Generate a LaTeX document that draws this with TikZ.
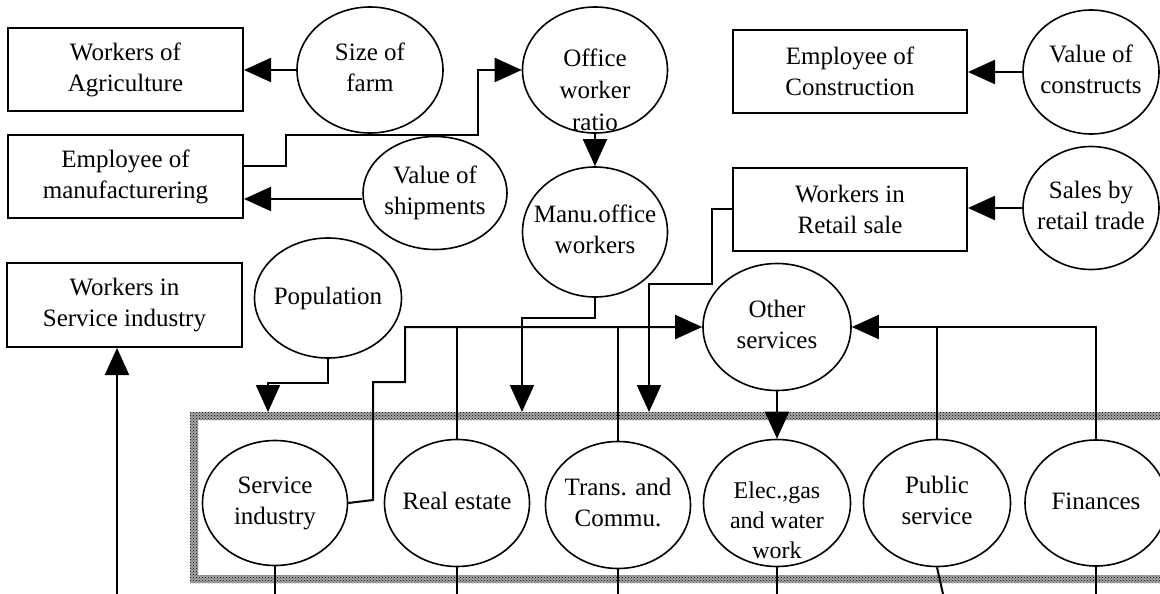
\documentclass[tikz,border=0pt]{standalone}
\usepackage{fontspec}
\setmainfont{Liberation Serif}
\usetikzlibrary{shapes.geometric,arrows.meta,patterns}
\newcommand{\ztx}[1]{\makebox[0pt]{\begin{tabular}{@{}c@{}}#1\end{tabular}}}
\begin{document}
\begin{tikzpicture}[x=1pt,y=-1pt,
  every node/.style={font=\fontsize{25}{31}\selectfont, align=center},
  bx/.style={draw, line width=2pt, minimum width=235pt, minimum height=83pt, inner sep=0pt},
  el/.style={draw, ellipse, line width=1.6pt, inner sep=0pt},
  con/.style={line width=2pt},
  arr/.style={con, -{Triangle[length=27pt,width=24pt]}},
]
\useasboundingbox (0,0) rectangle (1160,594);
\fill[white] (0,0) rectangle (1160,594);

% hatched band
\fill[black!35, even odd rule]
  (190,412) rectangle (1180,583) (198,420) rectangle (1180,575);
\fill[pattern=crosshatch dots, pattern color=black, even odd rule]
  (190,412) rectangle (1180,583) (198,420) rectangle (1180,575);

% boxes
\node[bx] (agri) at (125.5,69.5) {Workers of\\Agriculture};
\node[bx] (manuf) at (125.5,176.5) {Employee of\\manufacturering};
\node[bx, minimum width=234pt] (constr) at (850,71.5) {Employee of\\Construction};
\node[bx, minimum width=234pt] (retail) at (850,209) {Workers in\\Retail sale};
\node[bx, minimum height=84pt] (servw) at (124.5,305) {Workers in\\Service industry};

% ellipses
\node[el, minimum width=146pt, minimum height=126pt] (farm) at (370,70) {\ztx{Size of\\farm}};
\node[el, minimum width=145pt, minimum height=126pt] (office) at (595,70) {};
\node[font=\fontsize{25}{32}\selectfont] (officet) at (595,90) {Office\\worker\\ratio};
\node[el, minimum width=136pt, minimum height=124pt] (valcons) at (1091,72) {\ztx{Value of\\constructs}};
\node[el, minimum width=144pt, minimum height=113pt] (valship) at (435,193) {\ztx{Value of\\shipments}};
\node[el, minimum width=145pt, minimum height=130pt] (manu) at (595,232) {\ztx{Manu.office\\workers}};
\node[el, minimum width=136pt, minimum height=123pt] (sales) at (1091,208) {\ztx{Sales by\\retail trade}};
\node[el, minimum width=147pt, minimum height=120pt] (pop) at (328,298) {\ztx{Population}};
\node[el, minimum width=148pt, minimum height=127pt] (other) at (777,327) {\ztx{Other\\services}};
\node[el, minimum width=145pt, minimum height=125pt] (service) at (275,503) {\ztx{Service\\industry}};
\node[el, minimum width=145pt, minimum height=127pt] (real) at (457,503) {\ztx{Real estate}};
\node[el, minimum width=145pt, minimum height=127pt] (trans) at (618,505) {\ztx{Trans. and\\Commu.}};
\node[el, minimum width=147pt, minimum height=127pt] (elec) at (777,503) {};
\node[font=\fontsize{24}{30}\selectfont] (elect) at (777,520) {Elec.,gas\\and water\\work};
\node[el, minimum width=147pt, minimum height=127pt] (public) at (937,503) {\ztx{Public\\service}};
\node[el, minimum width=142pt, minimum height=126pt] (fin) at (1096,503) {\ztx{Finances}};

% arrow targets on the band
\coordinate (t1) at (268,412);
\coordinate (t2) at (522,412);
\coordinate (t3) at (649,412);
\coordinate (wb) at (117,594);

% connectors
\draw[arr] (farm.west) -- (farm.west -| agri.east);
\draw[arr] ([yshift=10.5pt]manuf.east) -- ++(42,0) -- ++(0,-31) -- (478,135) |- (office.west);
\draw[arr] ([yshift=-6pt]valship.west) -- ([yshift=-6pt]valship.west -| manuf.east);
\draw[arr] (office.south) -- (manu.north);
\draw[arr] (valcons.west) -- (valcons.west -| constr.east);
\draw[arr] (sales.west) -- (sales.west -| retail.east);

\draw[arr] (retail.west) -- ++(-20,0) -- ++(0,75) -| (t3);
\draw[arr] (manu.south) -- ++(0,20) -| (t2);
\draw[arr] (pop.south) -- ++(0,24) -| (t1);

\draw[arr] (service.east) -- (373,500) -- (373,382) -- (405,382) |- (other.west);
\draw[con] (real.north) -- (real.north |- other.west);
\draw[con] (trans.north) -- (trans.north |- other.west);
\draw[arr] (fin.north) |- (other.east);
\draw[con] (public.north) -- (public.north |- other.east);
\draw[arr] (other.south) -- (elec.north);

% lines leaving the bottom
\draw[con] (service.south) -- (service.south |- wb);
\draw[con] (real.south) -- (real.south |- wb);
\draw[con] (trans.south) -- (trans.south |- wb);
\draw[con] (elec.south) -- (elec.south |- wb);
\draw[con] (public.south) -- (943,594);
\draw[con] (fin.south) -- (fin.south |- wb);
\draw[arr] (wb) -- (wb |- servw.south);
\end{tikzpicture}
\end{document}
